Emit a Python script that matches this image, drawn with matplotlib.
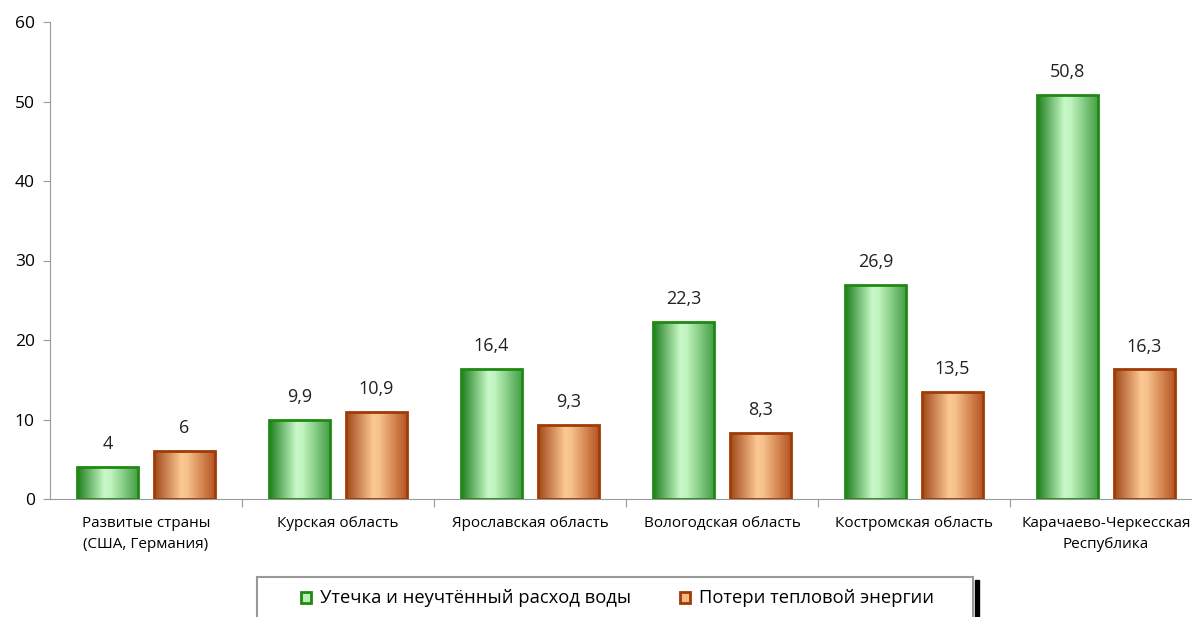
import numpy as np
import matplotlib
matplotlib.use("Agg")
import matplotlib.pyplot as plt
from matplotlib.colors import LinearSegmentedColormap
from matplotlib.patches import Rectangle

categories = ['Развитые страны\n(США, Германия)', 'Курская область', 'Ярославская область',
              'Вологодская область', 'Костромская область', 'Карачаево-Черкесская\nРеспублика']
water = [4, 9.9, 16.4, 22.3, 26.9, 50.8]
heat = [6, 10.9, 9.3, 8.3, 13.5, 16.3]
water_name = 'Утечка и неучтённый расход воды'
heat_name = 'Потери тепловой энергии'

W, H = 1192, 617
plt.rcParams['font.family'] = ['Open Sans', 'DejaVu Sans']

green_cmap = LinearSegmentedColormap.from_list(
    'g', [(0, '#1e7e1e'), (0.45, '#c8f8c8'), (0.55, '#c0f4c0'), (1, '#45a045')])
orange_cmap = LinearSegmentedColormap.from_list(
    'o', [(0, '#a04818'), (0.45, '#fcc894'), (0.55, '#f8c08a'), (1, '#b35422')])


def gradient_bars(ax, xs, heights, width, cmap, edge):
    grad = np.linspace(0, 1, 256).reshape(1, -1)
    bars = ax.bar(xs, heights, width, facecolor='none', edgecolor=edge,
                  linewidth=2, zorder=3)
    for b in bars:
        x0, y0 = b.get_x(), b.get_y()
        im = ax.imshow(grad, cmap=cmap, aspect='auto', zorder=2,
                       extent=[x0, x0 + b.get_width(), y0, y0 + b.get_height()])
        im.set_clip_path(b)
    return bars


def main():
    fig = plt.figure(figsize=(W / 100, H / 100), dpi=100)
    ax = fig.add_axes([50 / W, 1 - 499 / H, 1152 / W, 477 / H])

    x = np.arange(len(categories))
    off, bw = 0.2, 0.315
    b1 = gradient_bars(ax, x - off, water, bw, green_cmap, '#1f8a12')
    b2 = gradient_bars(ax, x + off, heat, bw, orange_cmap, '#a03a06')

    for bars, vals in ((b1, water), (b2, heat)):
        for b, v in zip(bars, vals):
            ax.annotate(('%g' % v).replace('.', ','),
                        (b.get_x() + b.get_width() / 2, v),
                        xytext=(0, 10), textcoords='offset points',
                        ha='center', va='bottom', fontsize=13, color='#222222')

    ax.set_xlim(-0.5, len(categories) - 0.5)
    ax.set_ylim(0, 60)
    ax.set_yticks(range(0, 61, 10))
    ax.set_xticks(np.arange(0.5, len(categories) - 0.5), minor=False)
    ax.set_xticklabels([])
    ax.set_xticks(x, minor=True)
    ax.set_xticklabels(categories, minor=True, fontsize=11, linespacing=1.6)
    ax.tick_params(axis='x', which='minor', length=0, pad=12)
    ax.tick_params(axis='x', which='major', length=6, color='#999999')
    ax.tick_params(axis='y', length=5, color='#999999', labelsize=12.5, pad=6)
    for s in ('top', 'right'):
        ax.spines[s].set_visible(False)
    for s in ('left', 'bottom'):
        ax.spines[s].set_color('#999999')

    # legend box
    fig.add_artist(Rectangle((975 / W, 0), 4 / W, 1 - 580 / H,
                             transform=fig.transFigure, color='black', zorder=5))
    fig.add_artist(Rectangle((257 / W, -0.05), (973 - 257) / W, 0.05 + 1 - 577 / H,
                             transform=fig.transFigure, facecolor='white',
                             edgecolor='#999999', linewidth=1.5, zorder=6))
    yl = 1 - 598 / H
    fig.add_artist(Rectangle((301 / W, yl - 5 / H), 10 / W, 11 / H, transform=fig.transFigure,
                             facecolor='#b8f0b8', edgecolor='#1f8a12', linewidth=2, zorder=7))
    fig.text(320 / W, yl, water_name, fontsize=13.2, va='center', zorder=7)
    fig.add_artist(Rectangle((680 / W, yl - 5 / H), 10 / W, 11 / H, transform=fig.transFigure,
                             facecolor='#f4b880', edgecolor='#a03a06', linewidth=2, zorder=7))
    fig.text(699 / W, yl, heat_name, fontsize=13.2, va='center', zorder=7)

    fig.savefig('out.png', dpi=100)


if __name__ == "__main__":
    main()
